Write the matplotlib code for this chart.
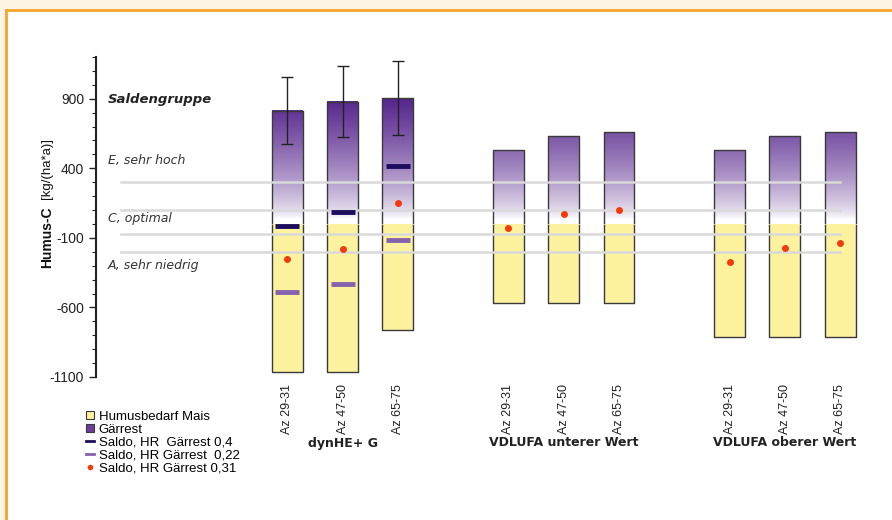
import numpy as np
import matplotlib
matplotlib.use("Agg")
import matplotlib.pyplot as plt
from matplotlib.patches import Rectangle, Patch
from matplotlib.lines import Line2D
from matplotlib.colors import to_rgb

plt.rcParams['axes.unicode_minus'] = False

# data
groups = ['dynHE+ G', 'VDLUFA unterer Wert', 'VDLUFA oberer Wert']
ages = ['Az 29-31', 'Az 47-50', 'Az 65-75']
gaerrest = [815, 880, 905, 530, 630, 660, 530, 630, 660]
bedarf = [-1065, -1065, -765, -565, -565, -565, -810, -810, -810]
gaerrest_err = [238, 258, 265]
saldo_04 = [-15, 85, 415]
saldo_022 = [-490, -435, -115]
saldo_031 = [-250, -178, 150, -30, 70, 100, -270, -170, -140]
class_limits = [300, 100, -75, -200]
class_labels = ['Saldengruppe', 'E, sehr hoch', 'C, optimal', 'A, sehr niedrig']
class_label_y = [895, 455, 40, -300]
yticks = [-1100, -600, -100, 400, 900]

W, H = 892, 520
fig = plt.figure(figsize=(W / 100, H / 100), dpi=100)
fig.patch.set_facecolor('#fdf4e6')

# white panel with orange frame (top and left)
fig.patches.append(Rectangle((6 / W, 0), 1, 1 - 10 / H, transform=fig.transFigure,
                             facecolor='white', edgecolor='none', zorder=-5))
fig.lines.append(Line2D([6 / W, 1], [1 - 10 / H] * 2, transform=fig.transFigure,
                        color='#f5a52e', lw=2, zorder=-4))
fig.lines.append(Line2D([6 / W] * 2, [0, 1 - 10 / H], transform=fig.transFigure,
                        color='#f5a52e', lw=2, zorder=-4))

ax = fig.add_axes([96 / W, 1 - 377 / H, (870 - 96) / W, (377 - 57) / H])
ax.set_facecolor('none')

pos = [0, 1, 2, 4, 5, 6, 8, 9, 10]
width = 0.56
edge = '#3a3a3a'

top_c = np.array(to_rgb('#52208a'))
white = np.ones(3)

def purple_gradient(v):
    f = np.clip((v - 30) / 900, 0, 1) ** 0.7
    return white + (top_c - white) * f[:, None]

for x, g, b in zip(pos, gaerrest, bedarf):
    x0, x1 = x - width / 2, x + width / 2
    # yellow demand part
    ax.add_patch(Rectangle((x0, b), width, -b, facecolor='#fdf29e',
                           edgecolor='none', zorder=2))
    ax.plot([x0, x0, x1, x1], [-8, b, b, -8], color=edge, lw=1.0, zorder=2.5)
    # purple gradient part
    yy = np.linspace(g, 0, 200)
    img = purple_gradient(yy)[:, None, :]
    ax.imshow(img, extent=(x0, x1, 8, g), aspect='auto', zorder=2,
              interpolation='bilinear')
    ax.plot([x0, x0, x1, x1], [8, g, g, 8], color=edge, lw=1.0, zorder=2.5)

ax.errorbar(pos[:3], gaerrest[:3], yerr=gaerrest_err, fmt='none', ecolor='#222222',
            elinewidth=1, capsize=4, capthick=1, zorder=5)

for yl in class_limits:
    ax.plot([-3, 10], [yl, yl], color='#d9d9d9', lw=1.8, zorder=3)

ax.plot(pos[:3], saldo_04, ls='none', marker='_', ms=17, mew=3.5,
        color='#1c0d5e', zorder=6)
ax.plot(pos[:3], saldo_022, ls='none', marker='_', ms=17, mew=3.5,
        color='#8562ad', zorder=6)
ax.plot(pos, saldo_031, ls='none', marker='o', ms=5, mew=0,
        color='#f23a0c', zorder=6)

for lab, yv in zip(class_labels, class_label_y):
    if lab == 'Saldengruppe':
        ax.text(-3.25, yv, lab, fontsize=9.5, fontweight='bold', style='italic',
                va='center', ha='left', family='DejaVu Sans', color='#222222')
    else:
        ax.text(-3.25, yv, lab, fontsize=9, style='italic', va='center', ha='left',
                family='DejaVu Sans', color='#333333')

ax.set_xlim(-3.46, 10.54)
ax.set_ylim(-1100, 1200)
ax.set_yticks(yticks)
ax.set_yticks(np.arange(-1100, 1201, 100), minor=True)
ax.tick_params(axis='y', which='major', length=5, width=1, labelsize=10,
               color='#222222', labelcolor='#222222')
ax.tick_params(axis='y', which='minor', length=3, width=0.8, color='#222222')
for lbl in ax.get_yticklabels():
    lbl.set_family('Liberation Sans')
ax.set_xticks(pos)
ax.set_xticklabels(ages * 3, rotation=90, fontsize=9, family='Liberation Sans',
                   color='#222222')
ax.tick_params(axis='x', length=0, pad=5)
for s in ['top', 'right', 'bottom']:
    ax.spines[s].set_visible(False)
ax.spines['left'].set_linewidth(1.5)
ax.spines['left'].set_color('#222222')

# group labels at pixel row ~443
ylab = (377 - 443) / (377 - 57)
for i, gname in enumerate(groups):
    ax.text(pos[3 * i + 1], ylab, gname, transform=ax.get_xaxis_transform(),
            ha='center', va='center', fontsize=9, fontweight='bold',
            family='DejaVu Sans', color='#222222')

# y label: bold part + normal part
fig.text(47 / W, 1 - 268 / H, 'Humus-C', rotation=90, ha='center', va='bottom',
         fontsize=10, fontweight='bold', family='Liberation Sans', color='#111111')
fig.text(47 / W, 1 - 199 / H, '[kg/(ha*a)]', rotation=90, ha='center', va='bottom',
         fontsize=9.5, family='Liberation Sans', color='#111111')

handles = [
    Patch(facecolor='#fdf29e', edgecolor='#3a3a3a', lw=0.8),
    Patch(facecolor='#6a3e9a', edgecolor='#3a3a3a', lw=0.8),
    Line2D([], [], color='#1c0d5e', lw=2),
    Line2D([], [], color='#8562ad', lw=2),
    Line2D([], [], ls='none', marker='o', ms=4, mew=0, color='#f23a0c'),
]
labels = ['Humusbedarf Mais', 'Gärrest', 'Saldo, HR  Gärrest 0,4',
          'Saldo, HR Gärrest  0,22', 'Saldo, HR Gärrest 0,31']
leg = fig.legend(handles, labels, loc='upper left',
                 bbox_to_anchor=(79 / W, 1 - 404 / H), frameon=False,
                 prop={'family': 'Liberation Sans', 'size': 9.5},
                 handlelength=0.6, handleheight=0.6, handletextpad=0.4,
                 labelspacing=0.08, borderpad=0)

fig.savefig('out.png', dpi=100, facecolor=fig.get_facecolor())
